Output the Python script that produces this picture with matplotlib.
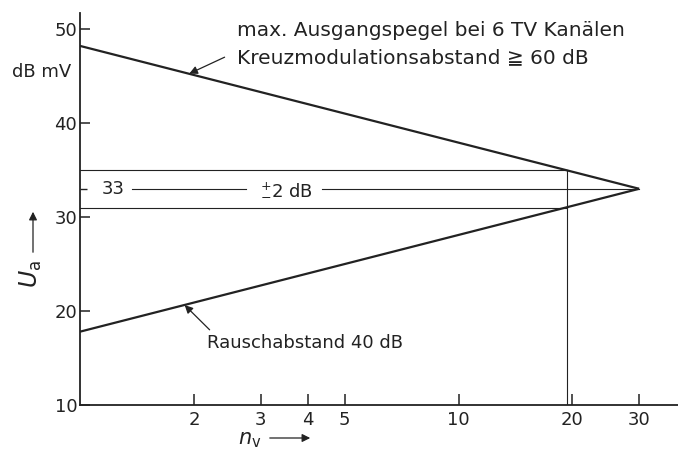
import matplotlib
matplotlib.use("Agg")
import matplotlib.pyplot as plt
from matplotlib.ticker import FixedLocator, NullFormatter, FixedFormatter

# Data
n_v = [1, 30]
max_level = [48.2, 33]        # max. Ausgangspegel (Kreuzmodulationsabstand >= 60 dB)
noise_level = [17.8, 33]      # Rauschabstand 40 dB
nominal = 33
tolerance = 2
n_limit = 19.4
x_ticks = [2, 3, 4, 5, 10, 20, 30]
x_labels = ["2", "3", "4", "5", "10", "20", "30"]
y_ticks = [10, 20, 30, 40, 50]
y_labels = ["10", "20", "30", "40", "50"]

ink = "#222222"
plt.rcParams['font.family'] = ['DejaVu Sans']
fs = 13

fig = plt.figure(figsize=(6.78, 4.53), dpi=100)
ax = fig.add_axes([80/678, 48/453, (678-80)/678, (405-13)/453])
ax.set_xscale('log')
ax.set_xlim(1, 38)
ax.set_ylim(10, 51.7)

for s in ['top', 'right']:
    ax.spines[s].set_visible(False)
for s in ['left', 'bottom']:
    ax.spines[s].set_linewidth(1.3)
    ax.spines[s].set_color(ink)

ax.xaxis.set_major_locator(FixedLocator(x_ticks))
ax.xaxis.set_major_formatter(FixedFormatter(x_labels))
ax.xaxis.set_minor_locator(FixedLocator([]))
ax.xaxis.set_minor_formatter(NullFormatter())
ax.yaxis.set_major_locator(FixedLocator(y_ticks))
ax.yaxis.set_major_formatter(FixedFormatter(y_labels))
ax.yaxis.set_minor_locator(FixedLocator([nominal]))
ax.tick_params(axis='x', which='major', direction='in', length=8, width=1.1, colors=ink, labelsize=fs, pad=4)
ax.tick_params(axis='y', which='major', direction='in', length=7, width=1.1, colors=ink, labelsize=fs, pad=2)
ax.tick_params(axis='y', which='minor', direction='in', length=5, width=1.0, colors=ink)

# main lines
ax.plot(n_v, max_level, color=ink, lw=1.6, solid_capstyle='butt')
ax.plot(n_v, noise_level, color=ink, lw=1.6, solid_capstyle='butt')

# tolerance band lines
ax.plot([1, n_limit], [nominal + tolerance]*2, color=ink, lw=0.8)
ax.plot([1, n_limit], [nominal - tolerance]*2, color=ink, lw=0.8)
ax.plot([n_limit, n_limit], [10, nominal + tolerance], color=ink, lw=0.8)

# nominal line with labels
ax.plot([1.37, 2.75], [nominal]*2, color=ink, lw=0.8)
ax.plot([4.35, n_v[1]], [nominal]*2, color=ink, lw=0.8)
ax.text(1.14, nominal, "33", fontsize=fs, va='center', ha='left', color=ink)
ax.text(3.5, nominal, "$^{+}_{-}$2 dB", fontsize=fs, va='center', ha='center', color=ink)

# annotations
ax.text(2.6, 49.8, "max. Ausgangspegel bei 6 TV Kanälen", fontsize=14.5, color=ink,
        ha='left', va='center')
ax.text(2.6, 47.0, "Kreuzmodulationsabstand \u2267 60 dB", fontsize=14.5, color=ink,
        ha='left', va='center')
ax.annotate("", xy=(1.944, 45.25), xytext=(2.41, 47.0),
            arrowprops=dict(arrowstyle='-|>', color=ink, lw=0.9, mutation_scale=12,
                            shrinkA=0, shrinkB=0))
ax.text(2.16, 16.6, "Rauschabstand 40 dB", fontsize=fs, color=ink, ha='left', va='center')
ax.annotate("", xy=(1.89, 20.63), xytext=(2.2, 18.0),
            arrowprops=dict(arrowstyle='-|>', color=ink, lw=0.9, mutation_scale=12,
                            shrinkA=0, shrinkB=0))

# axis labels
fig.text(12/678, 1 - 72/453, "dB mV", fontsize=fs, ha='left', va='center', color=ink)
fig.text(31/678, 1 - 274/453, "$U_{\\mathrm{a}}$", fontsize=17, ha='center', va='center',
         rotation=90, color=ink)
fig.add_artist(matplotlib.patches.FancyArrowPatch((33/678, 1 - 255/453), (33/678, 1 - 209/453),
               transform=fig.transFigure, arrowstyle='-|>', mutation_scale=12, color=ink, lw=0.9))
fig.text(250/678, 1 - 440/453, "$n_{\\mathrm{v}}$", fontsize=fs + 2, ha='center', va='center', color=ink)
fig.add_artist(matplotlib.patches.FancyArrowPatch((267/678, 1 - 438/453), (313/678, 1 - 438/453),
               transform=fig.transFigure, arrowstyle='-|>', mutation_scale=12, color=ink, lw=0.9))

fig.savefig("out.png", dpi=100, facecolor='white')
